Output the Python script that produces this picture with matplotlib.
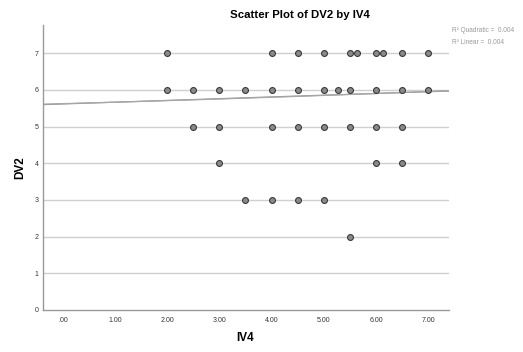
import numpy as np
import matplotlib.pyplot as plt

plt.rcParams['font.family'] = ['Liberation Sans', 'DejaVu Sans']

# points, grouped by DV2 value
iv4_dv7 = [2.0, 4.0, 4.5, 5.0, 5.5, 5.63, 6.0, 6.13, 6.5, 7.0]
iv4_dv6 = [2.0, 2.5, 3.0, 3.5, 4.0, 4.5, 5.0, 5.27, 5.5, 6.0, 6.5, 7.0]
iv4_dv5 = [2.5, 3.0, 4.0, 4.5, 5.0, 5.5, 6.0, 6.5]
iv4_dv4 = [3.0, 6.0, 6.5]
iv4_dv3 = [3.5, 4.0, 4.5, 5.0]
iv4_dv2 = [5.5]

iv4 = iv4_dv7 + iv4_dv6 + iv4_dv5 + iv4_dv4 + iv4_dv3 + iv4_dv2
dv2 = ([7] * len(iv4_dv7) + [6] * len(iv4_dv6) + [5] * len(iv4_dv5)
       + [4] * len(iv4_dv4) + [3] * len(iv4_dv3) + [2] * len(iv4_dv2))

# fit lines
linear_coef = [0.0476, 5.618]
quad_coef = [0.0012, 0.039, 5.625]
r2_quadratic = "0.004"
r2_linear = "0.004"

xticks = [0, 1, 2, 3, 4, 5, 6, 7]
xticklabels = [".00", "1.00", "2.00", "3.00", "4.00", "5.00", "6.00", "7.00"]
yticks = [0, 1, 2, 3, 4, 5, 6, 7]

fig = plt.figure(figsize=(5.23, 3.52), dpi=100)
ax = fig.add_axes([43 / 523, 1 - 310 / 352, (449 - 43) / 523, (310 - 25) / 352])

xmin, xmax = -0.38, 7.4
ax.set_xlim(xmin, xmax)
ax.set_ylim(0, 7.77)

for y in yticks[1:]:
    ax.axhline(y, color="#cfcfcf", lw=1.0, zorder=1)

xs = np.linspace(xmin, xmax, 200)
ax.plot(xs, np.polyval(linear_coef, xs), color="#909090", lw=0.9, zorder=2)
ax.plot(xs, np.polyval(quad_coef, xs), color="#a8a8a8", lw=0.9, zorder=2)

ax.scatter(iv4, dv2, s=18, facecolor="#8a8a8a", edgecolor="#3a3a3a",
           linewidth=0.8, zorder=3)

for side in ["top", "right"]:
    ax.spines[side].set_visible(False)
for side in ["left", "bottom"]:
    ax.spines[side].set_color("#9a9a9a")
    ax.spines[side].set_linewidth(1.0)

ax.set_xticks(xticks)
ax.set_xticklabels(xticklabels)
ax.set_yticks(yticks)
ax.tick_params(length=0, labelsize=5, colors="#333333")
ax.tick_params(axis="x", pad=5)
ax.tick_params(axis="y", pad=3)

fig.text(300 / 523, 1 - 15 / 352, "Scatter Plot of DV2 by IV4", ha="center",
         va="center", fontsize=8.2, fontweight="bold")
fig.text(245 / 523, 1 - 338 / 352, "IV4", ha="center", va="center",
         fontsize=8.5, fontweight="bold")
fig.text(20 / 523, 1 - 168 / 352, "DV2", ha="center", va="center",
         rotation=90, fontsize=8.5, fontweight="bold")

fig.text(452 / 523, 1 - 31 / 352, "R\u00b2 Quadratic =  " + r2_quadratic,
         ha="left", va="center", fontsize=4.7, color="#9a9a9a")
fig.text(452 / 523, 1 - 42 / 352, "R\u00b2 Linear =  " + r2_linear,
         ha="left", va="center", fontsize=4.7, color="#9a9a9a")

fig.savefig("out.png", dpi=100)
